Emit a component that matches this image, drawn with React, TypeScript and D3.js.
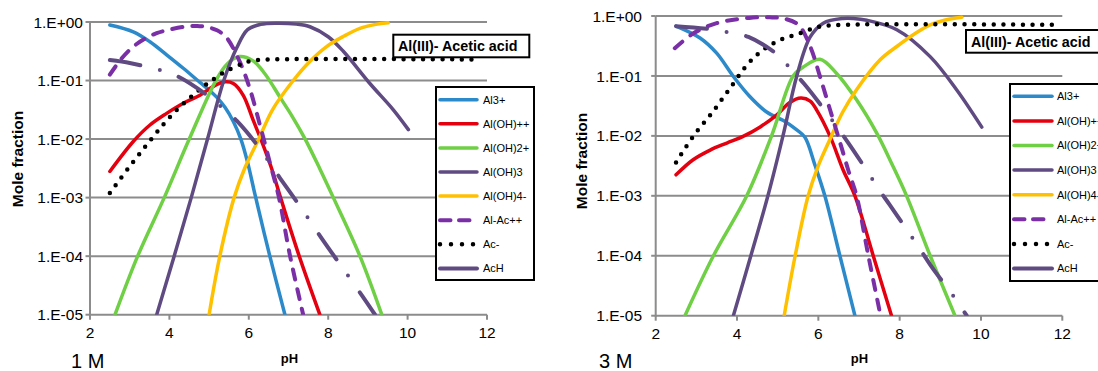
import React from "react";
import * as d3 from "d3";

type Pt = [number, number];

// ---------- text / categories ----------
const seriesNames = ["Al3+", "Al(OH)++", "Al(OH)2+", "Al(OH)3", "Al(OH)4-", "Al-Ac++", "Ac-", "AcH"];
const phTicks = [2, 4, 6, 8, 10, 12];
const fractionTicks = [1, 1e-1, 1e-2, 1e-3, 1e-4, 1e-5];
const fractionTickLabels = ["1.E+00", "1.E-01", "1.E-02", "1.E-03", "1.E-04", "1.E-05"];
const titleText = "Al(III)- Acetic acid";
const xAxisTitle = "pH";
const yAxisTitle = "Mole fraction";
const panelLabels = ["1 M", "3 M"];

// ---------- 1 M data: [pH, mole fraction] ----------
const al3_1M: Pt[] = [[2.5, 0.89], [3.09, 0.68], [3.51, 0.46], [3.93, 0.275], [4.35, 0.162], [4.77, 0.093], [5.0, 0.069], [5.19, 0.052], [5.4, 0.035], [5.61, 0.02], [5.8, 0.01], [5.97, 0.004], [6.16, 0.0011], [6.53, 1e-4], [6.91, 1e-5]];
const alOH_1M: Pt[] = [[2.5, 0.0028], [3.09, 0.0091], [3.51, 0.0174], [3.93, 0.0275], [4.35, 0.041], [4.77, 0.056], [5.1, 0.079], [5.4, 0.095], [5.61, 0.089], [5.86, 0.056], [6.11, 0.021], [6.32, 0.0093], [6.6, 0.0028], [6.8, 0.001], [7.27, 1e-4], [7.79, 1e-5]];
const alOH2_1M: Pt[] = [[2.63, 1e-5], [3.2, 1e-4], [3.87, 1e-3], [4.5, 0.01], [5.17, 0.1], [5.45, 0.19], [5.76, 0.257], [6.1, 0.219], [6.4, 0.132], [6.8, 0.05], [7.1, 0.024], [7.42, 0.01], [7.8, 0.003], [8.13, 0.001], [8.8, 1e-4], [9.35, 1e-5]];
const alOH3_1M: Pt[] = [[3.68, 1e-5], [4.12, 1e-4], [4.55, 1e-3], [4.96, 0.01], [5.37, 0.1], [5.69, 0.355], [5.97, 0.74], [6.3, 0.91], [6.7, 0.955], [7.2, 0.92], [7.54, 0.83], [8.0, 0.56], [8.38, 0.316], [9.05, 0.089], [9.64, 0.0316], [10.02, 0.0145]];
const alOH4_1M: Pt[] = [[5.0, 1e-5], [5.27, 1e-4], [5.63, 1e-3], [5.9, 0.0032], [6.25, 0.01], [6.6, 0.032], [7.12, 0.1], [7.5, 0.2], [7.96, 0.38], [8.4, 0.575], [8.8, 0.78], [9.2, 0.91], [9.51, 0.97]];
const alAc_1M: Pt[] = [[2.5, 0.126], [2.8, 0.24], [3.09, 0.38], [3.4, 0.525], [3.68, 0.645], [4.0, 0.74], [4.43, 0.84], [4.7, 0.855], [4.94, 0.82], [5.2, 0.72], [5.44, 0.54], [5.78, 0.204], [6.03, 0.071], [6.28, 0.0174], [6.53, 0.004], [6.76, 0.001], [7.04, 1e-4], [7.37, 1e-5]];
const ac_1M: Pt[] = [[2.5, 0.0012], [3.09, 0.0041], [3.57, 0.0105], [4.04, 0.025], [4.59, 0.056], [4.98, 0.091], [5.38, 0.138], [5.85, 0.195], [6.09, 0.219], [6.5, 0.229], [11.8, 0.229]];
const acH_1M: Pt[] = [[2.5, 0.224], [3.0, 0.2], [3.34, 0.178], [3.81, 0.148], [4.24, 0.115], [4.97, 0.055], [5.34, 0.034], [5.7, 0.0204], [6.23, 0.0076], [6.79, 0.00214], [7.29, 0.00071], [7.84, 0.0002], [8.34, 6.6e-5], [8.87, 2.04e-5], [9.18, 1e-5]];

// ---------- 3 M data ----------
const al3_3M: Pt[] = [[2.5, 0.68], [3.09, 0.43], [3.5, 0.24], [3.91, 0.098], [4.32, 0.045], [4.73, 0.025], [5.14, 0.018], [5.47, 0.0126], [5.67, 0.0095], [5.92, 0.0032], [6.16, 0.001], [6.53, 1e-4], [6.9, 1e-5]];
const alOH_3M: Pt[] = [[2.5, 0.00224], [2.92, 0.004], [3.34, 0.0058], [3.75, 0.0076], [4.15, 0.0098], [4.57, 0.0141], [4.98, 0.0224], [5.3, 0.036], [5.57, 0.0427], [5.8, 0.038], [5.96, 0.0269], [6.29, 0.0098], [6.61, 0.0027], [6.9, 0.001], [7.35, 1e-4], [7.8, 1e-5]];
const alOH2_3M: Pt[] = [[2.72, 1e-5], [3.42, 1e-4], [4.24, 1e-3], [4.85, 0.01], [5.38, 0.1], [5.63, 0.141], [6.04, 0.19], [6.45, 0.11], [6.94, 0.04], [7.44, 0.011], [7.8, 0.0035], [8.17, 0.001], [8.75, 1e-4], [9.36, 1e-5]];
const alOH3_3M: Pt[] = [[3.91, 1e-5], [4.34, 1e-4], [4.76, 1e-3], [5.13, 0.01], [5.47, 0.1], [5.8, 0.447], [6.12, 0.76], [6.61, 0.91], [6.86, 0.91], [7.19, 0.85], [7.93, 0.59], [8.75, 0.21], [9.4, 0.059], [10.02, 0.014]];
const alOH4_3M: Pt[] = [[5.16, 1e-5], [5.43, 1e-4], [5.75, 1e-3], [6.0, 0.0032], [6.29, 0.0089], [6.6, 0.025], [6.94, 0.059], [7.52, 0.186], [7.93, 0.31], [8.4, 0.52], [8.75, 0.71], [9.1, 0.85], [9.53, 0.955]];
const alAc_3M: Pt[] = [[2.47, 0.29], [2.92, 0.51], [3.5, 0.76], [4.3, 0.93], [4.8, 0.95], [5.14, 0.91], [5.51, 0.71], [5.8, 0.31], [6.04, 0.098], [6.29, 0.027], [6.53, 0.0079], [6.75, 0.0025], [6.94, 0.001], [7.23, 1e-4], [7.53, 1e-5]];
const ac_3M: Pt[] = [[2.5, 0.0036], [2.92, 0.0098], [3.38, 0.024], [3.81, 0.06], [4.28, 0.162], [4.65, 0.275], [5.06, 0.4], [5.53, 0.51], [6.02, 0.66], [6.52, 0.71], [11.95, 0.71]];
const acH_3M: Pt[] = [[2.5, 0.676], [3.38, 0.6], [3.83, 0.525], [4.28, 0.447], [5.02, 0.219], [5.34, 0.126], [5.65, 0.074], [6.19, 0.025], [6.74, 0.0076], [7.23, 0.0024], [7.48, 0.0013], [7.76, 0.0007], [8.25, 0.00023], [8.5, 0.000129], [8.77, 6.8e-5], [9.36, 1.95e-5], [9.65, 1e-5]];

const data1M = [al3_1M, alOH_1M, alOH2_1M, alOH3_1M, alOH4_1M, alAc_1M, ac_1M, acH_1M];
const data3M = [al3_3M, alOH_3M, alOH2_3M, alOH3_3M, alOH4_3M, alAc_3M, ac_3M, acH_3M];

// ---------- styles ----------
const seriesStyles = [
  { color: "#2C8ACB", width: 3.5, dash: "" },
  { color: "#E4000F", width: 3.5, dash: "" },
  { color: "#6FCF45", width: 3.5, dash: "" },
  { color: "#5F4B82", width: 3.5, dash: "" },
  { color: "#FFC000", width: 3.5, dash: "" },
  { color: "#7B2FA6", width: 4, dash: "10 10" },
  { color: "#000000", width: 4.5, dash: "0 9.7" },
  { color: "#5F4B82", width: 4, dash: "31 20 0 20" },
];
const legendDash = ["", "", "", "", "", "10.5 8.5", "0 11", ""];

const FONT = "'Liberation Sans', Arial, Helvetica, sans-serif";
const GRID = "#8C8C8C";

const layouts = [
  {
    id: "p1", data: data1M, label: panelLabels[0],
    x0: 90, x1: 487, yTop: 22, yBot: 314.7, yLabelRight: 83,
    legend: { x: 436, y: 87, w: 98, h: 193, row0: 99.7, dy: 24.1, sx0: 440, sx1: 477, tx: 483 },
    title: { x: 393.3, y: 34.7, w: 136, h: 22.6, tx: 398, ty: 50.8 },
    mole: { x: 22.5, y: 159 }, ph: { x: 289.5, y: 362.5 }, panel: { x: 71, y: 368.3 },
  },
  {
    id: "p2", data: data3M, label: panelLabels[1],
    x0: 655.7, x1: 1062.3, yTop: 16, yBot: 315.7, yLabelRight: 642,
    legend: { x: 1010, y: 84, w: 110, h: 197, row0: 96.3, dy: 24.6, sx0: 1014, sx1: 1052, tx: 1057 },
    title: { x: 966, y: 30, w: 150, h: 22.7, tx: 971, ty: 47 },
    mole: { x: 586.5, y: 161 }, ph: { x: 859.5, y: 362.5 }, panel: { x: 599, y: 368.3 },
  },
];

function Panel({ L }: { L: (typeof layouts)[number] }) {
  const x = d3.scaleLinear().domain([2, 12]).range([L.x0, L.x1]);
  const y = d3.scaleLog().domain([1e-5, 1]).range([L.yBot, L.yTop]);
  const line = d3
    .line<Pt>()
    .x((d) => x(d[0]))
    .y((d) => y(d[1]))
    .curve(d3.curveCatmullRom.alpha(0.5));
  const clipId = `clip-${L.id}`;
  return (
    <g>
      <defs>
        <clipPath id={clipId}>
          <rect x={L.x0} y={L.yTop - 6} width={L.x1 - L.x0 + 2} height={L.yBot - L.yTop + 6} />
        </clipPath>
      </defs>
      {fractionTicks.map((t) => (
        <line key={"g" + t} x1={L.x0} x2={L.x1} y1={y(t)} y2={y(t)} stroke={GRID} strokeWidth={2} />
      ))}
      <line x1={L.x0} x2={L.x0} y1={L.yTop} y2={L.yBot + 1} stroke={GRID} strokeWidth={2} />
      {fractionTicks.map((t, i) => (
        <g key={"yt" + t}>
          <line x1={L.x0 - 4.5} x2={L.x0} y1={y(t)} y2={y(t)} stroke={GRID} strokeWidth={2} />
          <text x={L.yLabelRight} y={y(t)} dy="0.36em" textAnchor="end" fontSize={15.5} fontFamily={FONT} fill="#000">
            {fractionTickLabels[i]}
          </text>
        </g>
      ))}
      {phTicks.map((t) => (
        <g key={"xt" + t}>
          <line x1={x(t)} x2={x(t)} y1={L.yBot} y2={L.yBot + 5} stroke={GRID} strokeWidth={2} />
          <text x={x(t)} y={L.yBot + 23} textAnchor="middle" fontSize={15.5} fontFamily={FONT} fill="#000">
            {t}
          </text>
        </g>
      ))}
      <g clipPath={`url(#${clipId})`}>
        {L.data.map((pts, i) => {
          const s = seriesStyles[i];
          return (
            <path
              key={"s" + i}
              d={line(pts) || ""}
              fill="none"
              stroke={s.color}
              strokeWidth={s.width}
              strokeDasharray={s.dash || undefined}
              strokeLinecap="round"
              strokeLinejoin="round"
            />
          );
        })}
      </g>
      <rect x={L.title.x} y={L.title.y} width={L.title.w} height={L.title.h} fill="#fff" stroke="#000" strokeWidth={2} />
      <text x={L.title.tx} y={L.title.ty} fontSize={14.3} fontWeight="bold" fontFamily={FONT} fill="#000">
        {titleText}
      </text>
      <rect x={L.legend.x} y={L.legend.y} width={L.legend.w} height={L.legend.h} fill="#fff" stroke="#000" strokeWidth={2} />
      {seriesNames.map((name, i) => {
        const s = seriesStyles[i];
        const yy = L.legend.row0 + i * L.legend.dy;
        return (
          <g key={"l" + i}>
            <line
              x1={L.legend.sx0}
              x2={L.legend.sx1}
              y1={yy}
              y2={yy}
              stroke={s.color}
              strokeWidth={s.width}
              strokeDasharray={legendDash[i] || undefined}
              strokeLinecap="round"
            />
            <text x={L.legend.tx} y={yy} dy="0.36em" fontSize={11} fontFamily={FONT} fill="#000">
              {name}
            </text>
          </g>
        );
      })}
      <text
        transform={`translate(${L.mole.x},${L.mole.y}) rotate(-90)`}
        textAnchor="middle"
        fontSize={15.5}
        fontWeight="bold"
        fontFamily={FONT}
        fill="#000"
      >
        {yAxisTitle}
      </text>
      <text x={L.ph.x} y={L.ph.y} textAnchor="middle" fontSize={13} fontWeight="bold" fontFamily={FONT} fill="#000">
        {xAxisTitle}
      </text>
      <text x={L.panel.x} y={L.panel.y} fontSize={20} fontFamily={FONT} fill="#000">
        {L.label}
      </text>
    </g>
  );
}

export default function App() {
  return (
    <svg
      width={1098}
      height={371}
      viewBox="0 0 1098 371"
      style={{ position: "absolute", left: 0, top: 0, background: "#fff", overflow: "hidden" }}
    >
      <rect x={0} y={0} width={1098} height={371} fill="#fff" />
      {layouts.map((L) => (
        <Panel key={L.id} L={L} />
      ))}
    </svg>
  );
}
